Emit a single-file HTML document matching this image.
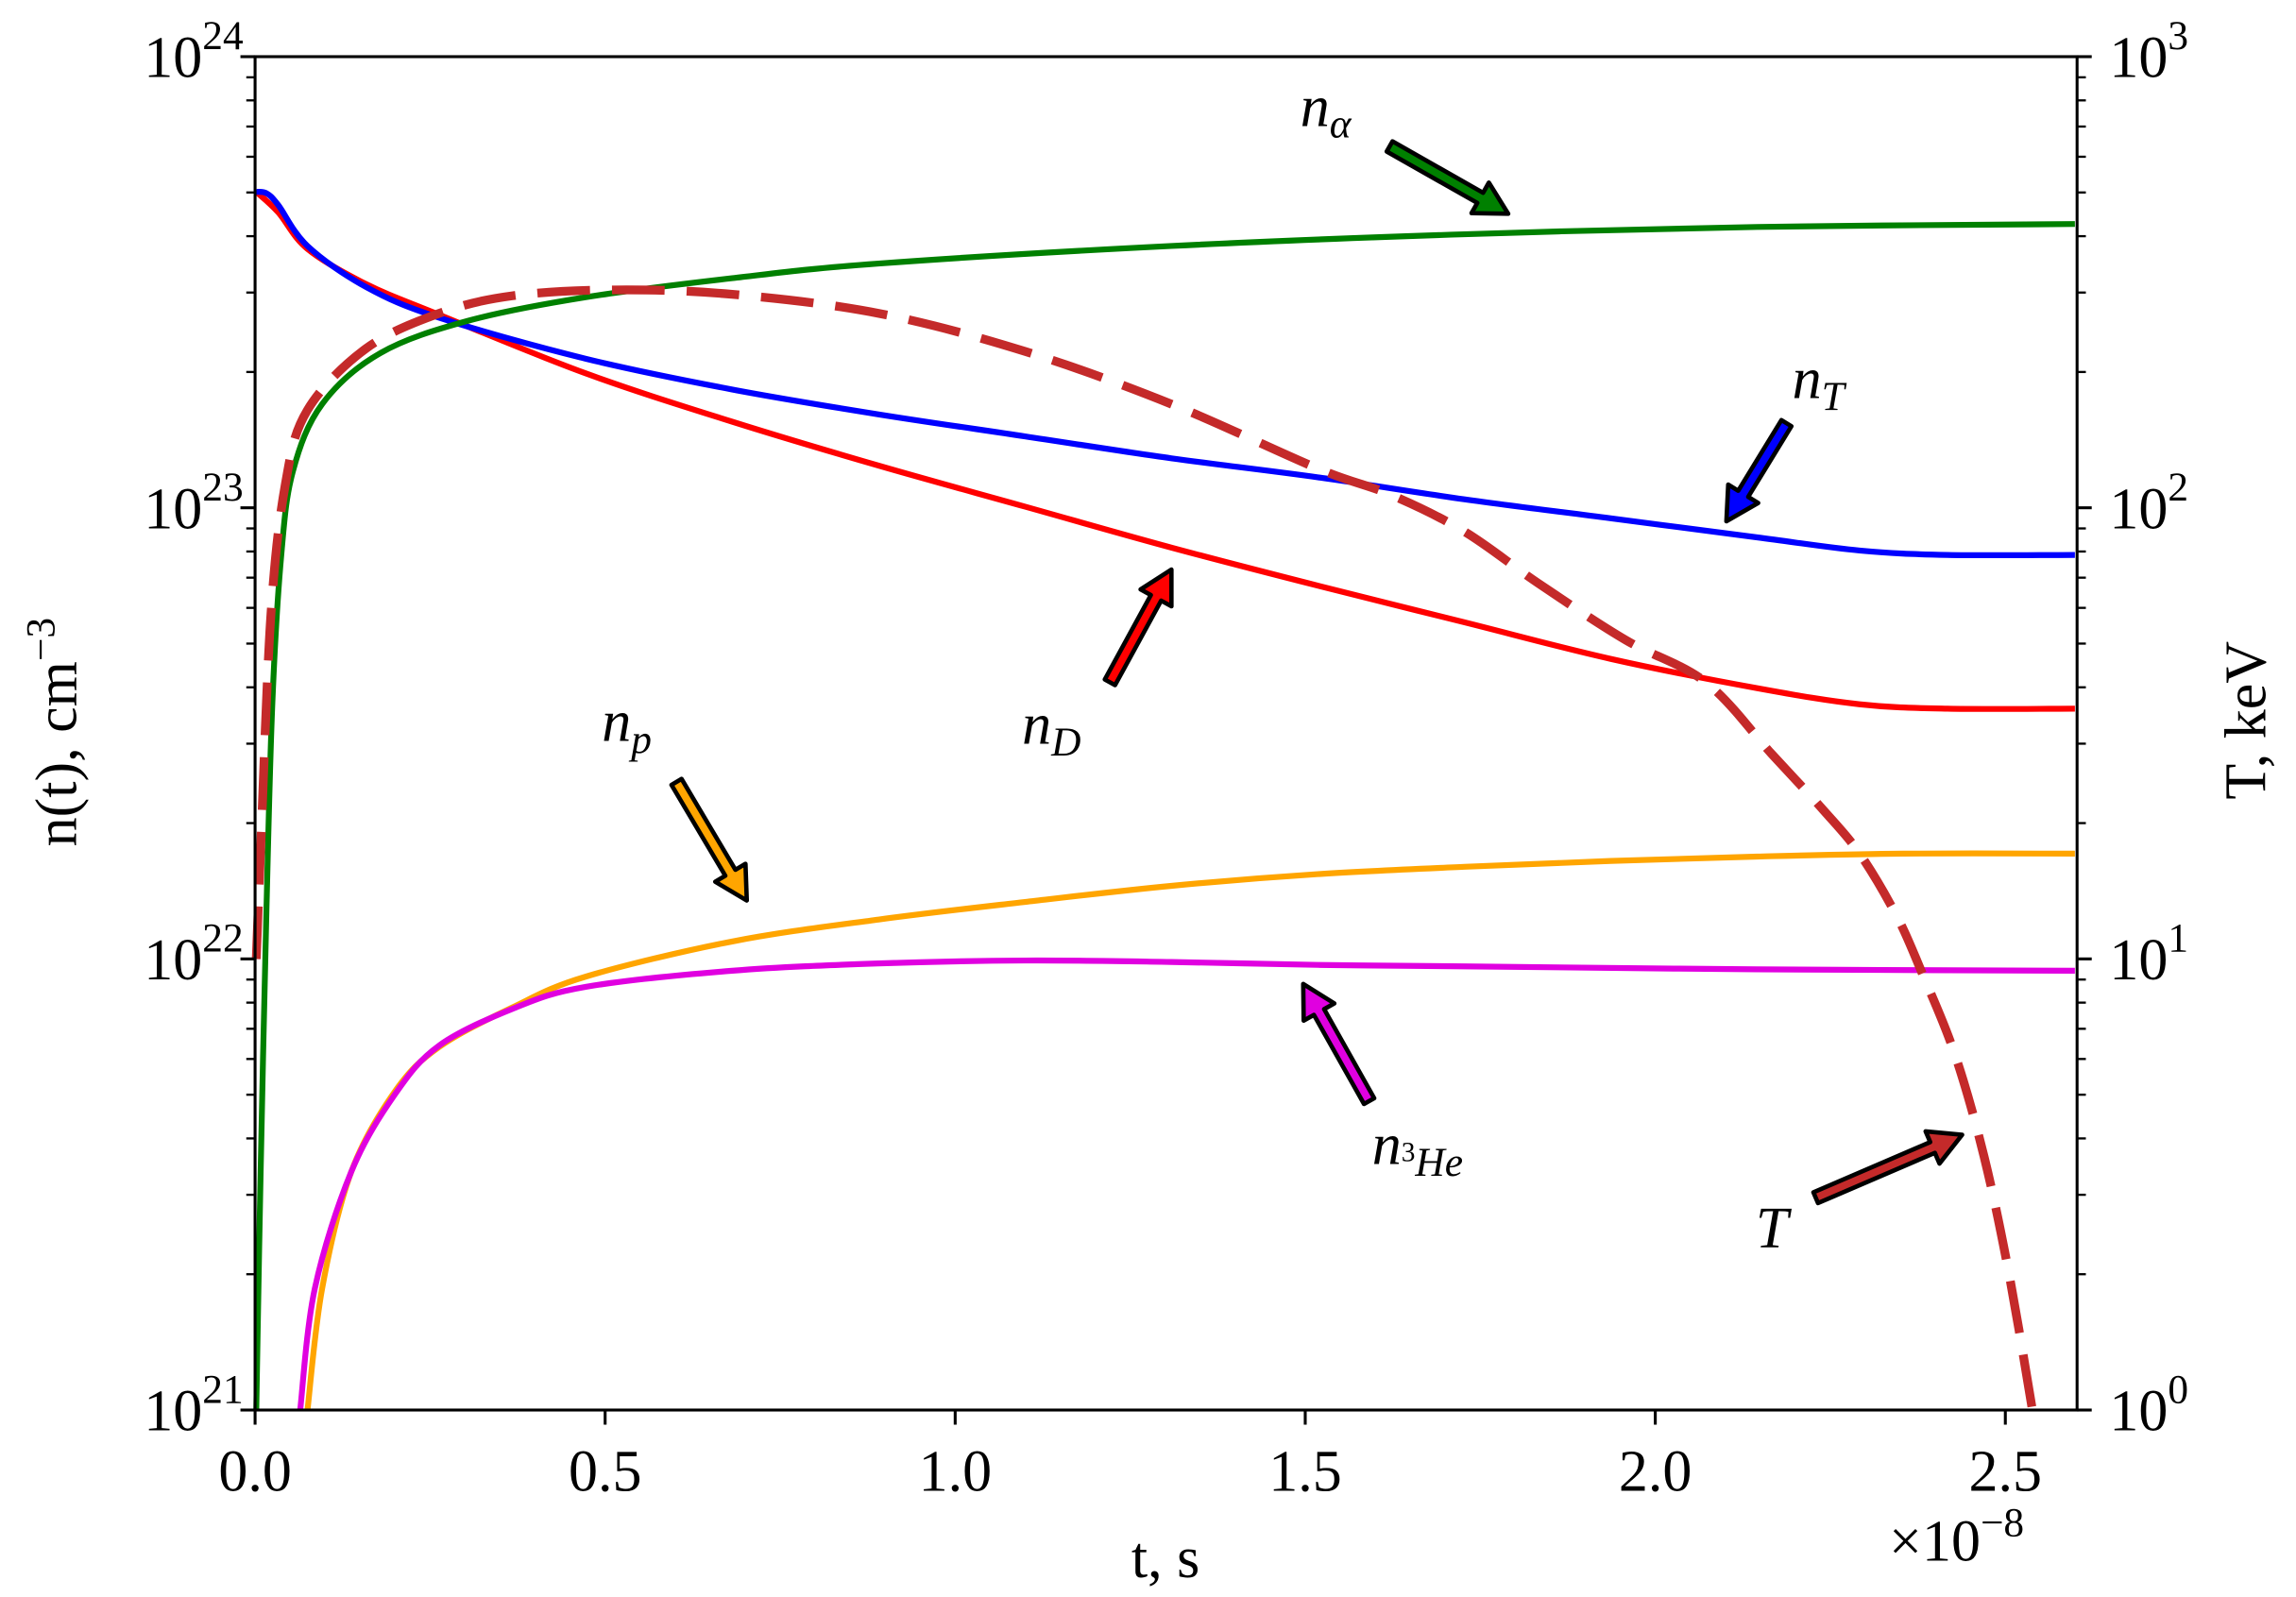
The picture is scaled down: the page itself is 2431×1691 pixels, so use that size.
<!DOCTYPE html>
<html><head><meta charset="utf-8">
<style>
html,body{margin:0;padding:0;background:#fff;}
svg{display:block;}
text{font-family:"Liberation Serif","DejaVu Serif",serif;fill:#000;}
</style></head>
<body>
<svg id="s" width="2431" height="1691" viewBox="0 0 1568 1090.7" xmlns="http://www.w3.org/2000/svg">
<rect width="1568" height="1091" fill="#fff"/>
<g id="curves" fill="none" stroke-linejoin="round" stroke-linecap="butt"></g>
<g id="arrows"></g>
<g id="axes"></g>
<g font-style="italic" font-size="40">
<text x="888" y="86">n<tspan font-size="28" dy="8">α</tspan></text>
<text x="1224" y="272">n<tspan font-size="28" dy="8">T</tspan></text>
<text x="698" y="508">n<tspan font-size="28" dy="8">D</tspan></text>
<text x="411" y="506">n<tspan font-size="28" dy="8">p</tspan></text>
<text x="937" y="795">n<tspan font-size="19" dy="-2" font-style="normal">3</tspan><tspan font-size="28" dy="10">He</tspan></text>
<text x="1199" y="852">T</text>
</g>
<g font-size="40">
<text x="796" y="1077" text-anchor="middle">t, s</text>
<text x="1290" y="1066">×10<tspan font-size="28" dy="-17">−8</tspan></text>
<text transform="translate(52,500) rotate(-90)" text-anchor="middle">n(t), cm<tspan font-size="28" dy="-15">−3</tspan></text>
<text transform="translate(1547,492) rotate(-90)" text-anchor="middle">T, keV</text>
</g>
</svg>
<script>
const NS="http://www.w3.org/2000/svg";
const L=174.2,R=1418.5,T=38.7,B=963;
function el(p,tag,a,txt){const e=document.createElementNS(NS,tag);for(const k in a)e.setAttribute(k,a[k]);if(txt!==undefined)e.textContent=txt;p.appendChild(e);return e;}
function cr(pts){let d="M"+pts[0][0]+","+pts[0][1];for(let i=0;i<pts.length-1;i++){const p0=pts[i-1]||pts[i],p1=pts[i],p2=pts[i+1],p3=pts[i+2]||p2;
const c1=[p1[0]+(p2[0]-p0[0])/6,p1[1]+(p2[1]-p0[1])/6],c2=[p2[0]-(p3[0]-p1[0])/6,p2[1]-(p3[1]-p1[1])/6];
d+=` C${c1[0]},${c1[1]} ${c2[0]},${c2[1]} ${p2[0]},${p2[1]}`;}return d;}
const cv=document.getElementById("curves");
const series=[
["#ff0000",4,null,[[175,131],[190,145],[210,170],[250,194],[300,215],[400,255],[500,288],[600,318],[700,346],[800,374],[900,400],[1000,425],[1100,450],[1200,470],[1270,481],[1330,484],[1417,484]]],
["#0000ff",4,null,[[175,131],[182,132],[190,140],[210,168],[250,196],[300,217],[400,245],[500,266],[600,283],[700,298],[800,313],[900,326],[1000,341],[1100,354],[1200,367],[1270,376],[1330,379],[1417,379]]],
["#008000",4,null,[[175,963],[178,800],[182,620],[186,480],[192,380],[200,322],[220,276],[260,241],[320,219],[400,203],[500,190],[600,180],[800,168],[1000,160],[1200,155],[1417,153]]],
["#ffa500",4,null,[[210,963],[220,880],[240,800],[270,745],[300,715],[350,688],[400,667],[500,643],[600,628],[700,616],[800,605],[900,597],[1000,592],[1100,588],[1200,585],[1300,583],[1417,583]]],
["#e000e0",4,null,[[205,963],[215,880],[240,800],[270,747],[300,714],[350,689],[400,674],[500,663],[600,658],[700,656],[800,657],[900,659],[1000,660],[1200,662],[1417,663]]],
["#c42a2a",6,"36,15",[[175,655],[178,580],[185,420],[195,330],[210,280],[250,238],[300,214],[350,202],[420,198],[500,201],[600,214],[700,240],[800,276],[900,320],[950,338],[1000,363],[1050,398],[1110,437],[1165,466],[1210,515],[1245,553],[1270,583],[1295,625],[1312,663],[1335,720],[1355,790],[1372,870],[1388,963]]]
];
for(const [c,w,da,p] of series){const a={d:cr(p),stroke:c,"stroke-width":w};if(da)a["stroke-dasharray"]=da;el(cv,"path",a);}
const ar=document.getElementById("arrows");
function arrow(x1,y1,x2,y2,col){const dx=x2-x1,dy=y2-y1,l=Math.hypot(dx,dy),ux=dx/l,uy=dy/l,nx=-uy,ny=ux;
const hw=12,sw=4,hl=22;const bx=x2-ux*hl,by=y2-uy*hl;
const P=[[x1+nx*sw,y1+ny*sw],[bx+nx*sw,by+ny*sw],[bx+nx*hw,by+ny*hw],[x2,y2],[bx-nx*hw,by-ny*hw],[bx-nx*sw,by-ny*sw],[x1-nx*sw,y1-ny*sw]];
el(ar,"polygon",{points:P.map(p=>p.join(",")).join(" "),fill:col,stroke:"#000","stroke-width":3,"stroke-linejoin":"round"});}
arrow(949,100,1030,146,"#008000");
arrow(1220,289,1179,356,"#0000ff");
arrow(758,466,800,389,"#ff0000");
arrow(462,534,510,615,"#ffa500");
arrow(935,752,890,672,"#e000e0");
arrow(1240,818,1340,775,"#c42a2a");
const ax=document.getElementById("axes");
el(ax,"rect",{x:L,y:T,width:R-L,height:B-T,fill:"none",stroke:"#000","stroke-width":2});
const dec=(B-T)/3;
for(let d=0;d<=3;d++){const y=B-d*dec;
el(ax,"line",{x1:L-10,y1:y,x2:L,y2:y,stroke:"#000","stroke-width":2});
el(ax,"line",{x1:R,y1:y,x2:R+10,y2:y,stroke:"#000","stroke-width":2});
const t1=el(ax,"text",{x:L-8,y:y+14,"text-anchor":"end","font-size":40});t1.textContent="10";el(t1,"tspan",{"font-size":28,dy:-19},String(21+d));
const t2=el(ax,"text",{x:R+22,y:y+14,"font-size":40});t2.textContent="10";el(t2,"tspan",{"font-size":28,dy:-19},String(d));
if(d<3)for(let m=2;m<=9;m++){const ym=y-Math.log10(m)*dec;
el(ax,"line",{x1:L-6,y1:ym,x2:L,y2:ym,stroke:"#000","stroke-width":1.5});
el(ax,"line",{x1:R,y1:ym,x2:R+6,y2:ym,stroke:"#000","stroke-width":1.5});}}
const sx=(1369.5-L)/2.5;
for(let i=0;i<=5;i++){const v=i*0.5,x=L+v*sx;
el(ax,"line",{x1:x,y1:B,x2:x,y2:B+10,stroke:"#000","stroke-width":2});
el(ax,"text",{x:x,y:1018,"text-anchor":"middle","font-size":40},v.toFixed(1));}
</script>
</body></html>
